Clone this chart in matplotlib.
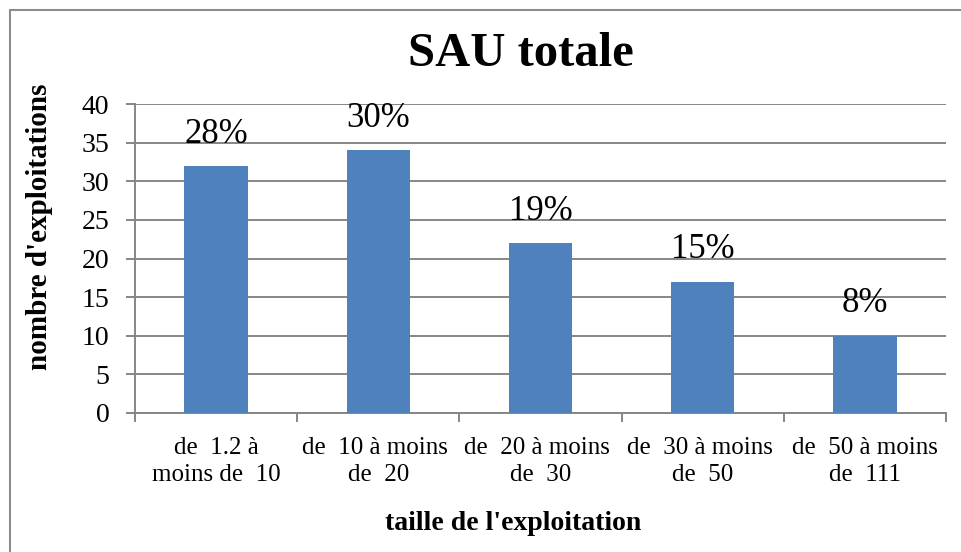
import matplotlib
matplotlib.use("Agg")
import matplotlib.pyplot as plt
from matplotlib.patches import Rectangle
import numpy as np

categories = ["de  1.2 à\nmoins de  10", "de  10 à moins \nde  20", "de  20 à moins \nde  30",
              "de  30 à moins \nde  50", "de  50 à moins\nde  111"]
values = [32, 34, 22, 17, 10]
pct_labels = ["28%", "30%", "19%", "15%", "8%"]
yticks = [0, 5, 10, 15, 20, 25, 30, 35, 40]

plt.rcParams['font.family'] = ['Liberation Serif', 'DejaVu Serif']

W, H = 962, 552
fig = plt.figure(figsize=(W / 100, H / 100), dpi=100)
fig.patch.set_facecolor('white')

# chart border
fig.add_artist(Rectangle((10 / W, -0.1), 1.2, 1 - 10 / H + 0.1, transform=fig.transFigure,
                         fill=False, edgecolor='#8c8c8c', linewidth=1.5))

left, right, top, bottom = 135, 946, 104, 413
ax = fig.add_axes([left / W, 1 - bottom / H, (right - left) / W, (bottom - top) / H])

grid_c = '#868686'
x = np.arange(len(values))
ax.bar(x, values, width=0.39, color='#4F81BD', zorder=3)
ax.set_xlim(-0.5, len(values) - 0.5)
ax.set_ylim(0, 40)
ax.set_yticks(yticks)
ax.set_yticklabels([str(v) for v in yticks], fontsize=20)
ax.yaxis.grid(True, color=grid_c, linewidth=1.4, zorder=0)
ax.set_axisbelow(True)

for s in ['top', 'right']:
    ax.spines[s].set_visible(False)
for s in ['left', 'bottom']:
    ax.spines[s].set_color(grid_c)
    ax.spines[s].set_linewidth(1.4)

ax.tick_params(axis='y', length=6.5, width=1.4, color=grid_c, pad=12)
# category boundary ticks
ax.set_xticks(np.arange(-0.5, len(values), 1.0))
ax.set_xticklabels([])
ax.tick_params(axis='x', which='major', length=6.5, width=1.4, color=grid_c)
ax.set_xticks(x, minor=True)
ax.set_xticklabels(categories, minor=True, fontsize=18, linespacing=1.32)
ax.tick_params(axis='x', which='minor', length=0, pad=17)

for xi, v, lab in zip(x, values, pct_labels):
    ax.annotate(lab, (xi, v), xytext=(0, 11), textcoords='offset points',
                ha='center', va='bottom', fontsize=25)

fig.text(521 / W, 1 - 54 / H, "SAU totale", ha='center', va='center',
         fontsize=35, fontweight='bold')
fig.text(513 / W, 1 - 523 / H, "taille de l'exploitation", ha='center', va='center',
         fontsize=20, fontweight='bold')
fig.text(40 / W, 1 - 227 / H, "nombre d'exploitations", ha='center', va='center',
         rotation=90, fontsize=21, fontweight='bold')

fig.savefig("out.png", dpi=100)
